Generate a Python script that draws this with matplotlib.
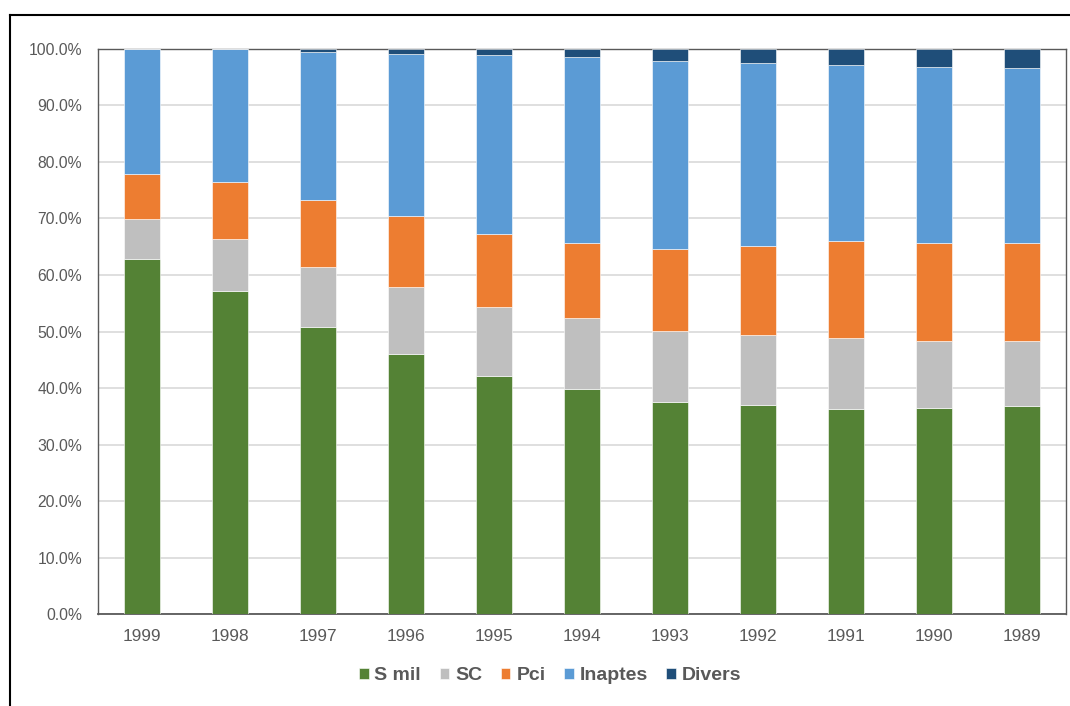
import matplotlib.pyplot as plt
import numpy as np
from matplotlib.lines import Line2D
from matplotlib.ticker import PercentFormatter

plt.rcParams['font.family'] = ['Liberation Sans', 'DejaVu Sans']

# data (percent of each year)
years = ["1999", "1998", "1997", "1996", "1995", "1994", "1993", "1992", "1991", "1990", "1989"]
s_mil = [62.9, 57.2, 50.8, 46.1, 42.1, 39.8, 37.6, 37.0, 36.2, 36.5, 36.8]
sc = [7.0, 9.2, 10.7, 11.7, 12.3, 12.6, 12.5, 12.3, 12.6, 11.8, 11.6]
pci = [7.9, 10.1, 11.8, 12.6, 12.8, 13.3, 14.5, 15.9, 17.2, 17.4, 17.3]
inaptes = [22.2, 23.5, 26.2, 28.8, 31.7, 32.8, 33.3, 32.4, 31.2, 31.1, 31.0]
divers = [0.0, 0.0, 0.5, 0.8, 1.1, 1.5, 2.1, 2.4, 2.8, 3.2, 3.3]

series = [("S mil", s_mil, "#548235"),
          ("SC", sc, "#BFBFBF"),
          ("Pci", pci, "#ED7D31"),
          ("Inaptes", inaptes, "#5B9BD5"),
          ("Divers", divers, "#1F4E79")]

fig = plt.figure(figsize=(10.7, 7.06), dpi=100)
ax = fig.add_axes([0.0916, 0.1303, 0.9047, 0.8003])

x = np.arange(len(years))
bottom = np.zeros(len(years))
for name, vals, col in series:
    ax.bar(x, vals, 0.41, bottom=bottom, color=col, label=name,
           edgecolor="white", linewidth=0.4, zorder=3)
    bottom += np.array(vals)

ax.set_xlim(-0.5, len(years) - 0.5)
ax.set_ylim(0, 100)
ax.set_yticks(np.arange(0, 101, 10))
ax.yaxis.set_major_formatter(PercentFormatter(decimals=1))
ax.set_xticks(x)
ax.set_xticklabels(years)
ax.tick_params(axis="y", length=0, labelsize=11.3, labelcolor="#595959", pad=11.5)
ax.tick_params(axis="x", length=0, labelsize=12.4, labelcolor="#595959", pad=10.5)
ax.grid(axis="y", color="#D9D9D9", linewidth=1.2, zorder=0)
for sp in ax.spines.values():
    sp.set_color("#595959")
    sp.set_linewidth(1.0)
ax.spines["bottom"].set_linewidth(1.3)

leg = ax.legend(loc="upper center", bbox_to_anchor=(0.467, -0.063), ncol=5,
                frameon=False, handlelength=0.5, handleheight=0.5,
                handletextpad=0.3, columnspacing=0.95,
                prop={"weight": "bold", "size": 14})
for t in leg.get_texts():
    t.set_color("#595959")

# frame of the screenshot (top and left edges)
fig.add_artist(Line2D([10 / 1070, 1.0], [1 - 15 / 706, 1 - 15 / 706],
                      transform=fig.transFigure, color="black", linewidth=1.5))
fig.add_artist(Line2D([10 / 1070, 10 / 1070], [0.0, 1 - 15 / 706],
                      transform=fig.transFigure, color="black", linewidth=1.5))

fig.savefig("out.png", dpi=100)
